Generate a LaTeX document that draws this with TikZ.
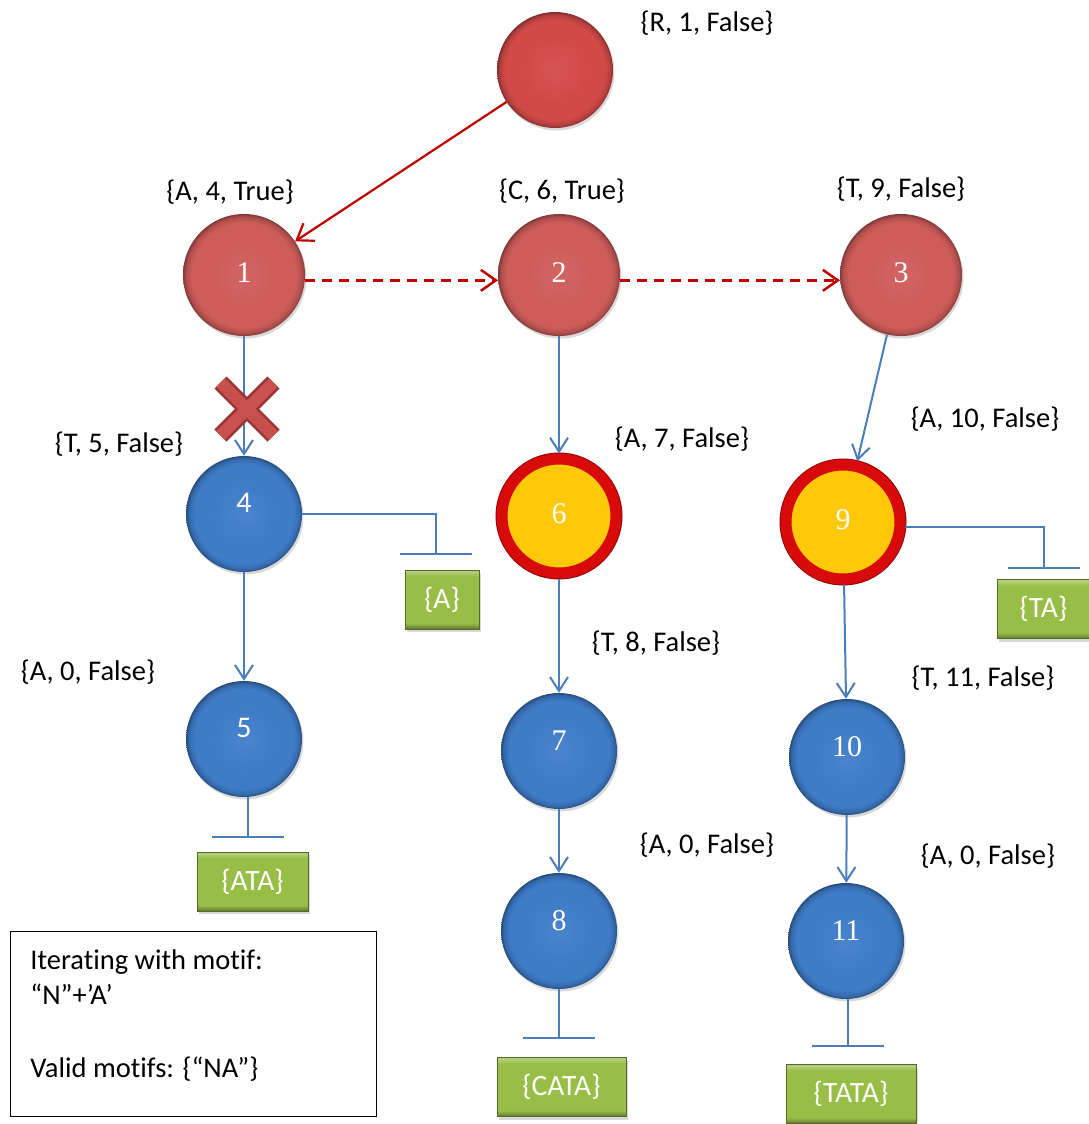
\documentclass[tikz,border=0pt]{standalone}
\usepackage{fontspec}
\setmainfont{Carlito}[Ligatures=NoCommon]
\newfontfamily\digitserif{Liberation Serif}
\usetikzlibrary{arrows.meta,shadows,shapes.misc}

\definecolor{rootred}{HTML}{D24A48}
\definecolor{nodered}{HTML}{CE5C59}
\definecolor{nodeblue}{HTML}{3E7CC8}
\definecolor{lineblue}{HTML}{4A7EBB}
\definecolor{linered}{HTML}{C00000}
\definecolor{ringred}{HTML}{D80A0A}
\definecolor{ringyellow}{HTML}{FFC90A}
\definecolor{leafgreen}{HTML}{98BE48}
\definecolor{crossdark}{HTML}{9C3634}
\definecolor{crosslight}{HTML}{C8514F}

% flat disc with a darker bevelled rim (edge of the path sits at 25bp)
\newcommand\bevelshading[2]{%
  \pgfdeclareradialshading{#1}{\pgfpoint{0bp}{0bp}}{%
    color(0bp)=(#2!94!white); color(14bp)=(#2); color(21.5bp)=(#2);
    color(23.8bp)=(#2!85!black); color(25bp)=(#2!62!black);
    color(50bp)=(#2!62!black)}}
\bevelshading{rootbevel}{rootred}
\bevelshading{redbevel}{nodered}
\bevelshading{bluebevel}{nodeblue}

% box with light top bevel and dark bottom bevel (path spans 25bp..75bp)
\pgfdeclareverticalshading{leafbevel}{100bp}{%
  color(0bp)=(leafgreen!62!black); color(25bp)=(leafgreen!62!black);
  color(27.5bp)=(leafgreen!82!black); color(30bp)=(leafgreen);
  color(70bp)=(leafgreen); color(72.5bp)=(leafgreen!80!white);
  color(75bp)=(leafgreen!70!white); color(100bp)=(leafgreen!70!white)}

\tikzset{
  treenode/.style={circle, inner sep=0pt, minimum size=#1, text=white,
    drop shadow={shadow xshift=1.5pt, shadow yshift=-2.5pt, opacity=0.3}},
  serifnum/.style={font=\digitserif\fontsize{30}{30}\selectfont, text height=20pt},
  sansnum/.style={font=\fontsize{30}{30}\selectfont, text height=19pt},
  rootnode/.style={treenode=116pt, shading=rootbevel},
  rednode/.style={treenode=122pt, shading=redbevel, serifnum, text depth=6pt},
  bluenode/.style={treenode=116pt, shading=bluebevel, serifnum, text depth=22pt},
  ringnode/.style={circle, inner sep=0pt, minimum size=114pt, fill=ringyellow,
    draw=ringred, line width=11pt,
    preaction={draw=ringred!65!black, line width=13pt},
    text=white, serifnum, text depth=6pt},
  infotag/.style={font=\fontsize{28.5}{34}\selectfont, inner sep=0pt},
  leaf/.style={rectangle, inner sep=0pt, minimum height=59pt, minimum width=#1,
    draw=leafgreen!55!black, line width=0.6pt, shading=leafbevel,
    text=white, font=\fontsize{29.5}{34}\selectfont,
    drop shadow={shadow xshift=2pt, shadow yshift=-3pt, opacity=0.3}},
  bluearrow/.style={draw=lineblue, line width=2pt,
    -{Straight Barb[length=14pt,width=18pt]}},
  redarrow/.style={draw=linered, line width=2.2pt,
    -{Straight Barb[length=15pt,width=21pt]}},
  reddash/.style={redarrow, line width=2.5pt, dash pattern=on 10pt off 7pt},
  stem/.style={draw=lineblue, line width=2pt},
  crossmark/.style={cross out, minimum size=36pt, inner sep=0pt,
    draw=crossdark, line width=17pt,
    postaction={draw=crosslight, line width=12pt}},
  notebox/.style={draw=black, line width=0.8pt, anchor=north west,
    inner xsep=20pt, inner ysep=18pt, font=\fontsize{28.5}{35}\selectfont,
    minimum width=366pt, minimum height=185pt}
}

\begin{document}
\begin{tikzpicture}[x=1pt, y=-1pt]
\useasboundingbox (0,0) rectangle (1088,1124);

% tree nodes
\node[rootnode] (nR) at (555,70) {};
\node[rednode] (n1) at (244,275) {1};
\node[rednode] (n2) at (559,275) {2};
\node[rednode] (n3) at (901,275) {3};
\node[bluenode, sansnum] (n4) at (244,514) {4};
\node[bluenode, sansnum] (n5) at (244,739) {5};
\node[ringnode] (n6) at (559,516) {6};
\node[bluenode] (n7) at (559,751) {7};
\node[bluenode] (n8) at (559,931) {8};
\node[ringnode] (n9) at (843,522) {9};
\node[bluenode] (n10) at (847,757) {10};
\node[bluenode] (n11) at (846,941) {11};

% node annotations
\node[infotag] (lR) at (707,23) {\{R, 1, False\}};
\node[infotag] (l1) at (230,192) {\{A, 4, True\}};
\node[infotag] (l2) at (562,191) {\{C, 6, True\}};
\node[infotag] (l3) at (901,189) {\{T, 9, False\}};
\node[infotag] (l4) at (119,444) {\{T, 5, False\}};
\node[infotag] (l6) at (682,439) {\{A, 7, False\}};
\node[infotag] (l9) at (985,419) {\{A, 10, False\}};
\node[infotag] (l7) at (656,643) {\{T, 8, False\}};
\node[infotag] (l5) at (88,672) {\{A, 0, False\}};
\node[infotag] (l10) at (983,678) {\{T, 11, False\}};
\node[infotag] (l8) at (707,845) {\{A, 0, False\}};
\node[infotag] (l11) at (988,856) {\{A, 0, False\}};

% collected motifs
\node[leaf=74pt] (bA) at (442,599.5) {\{A\}};
\node[leaf=93pt] (bTA) at (1043.5,609) {\{TA\}};
\node[leaf=111pt] (bATA) at (252.5,881.5) {\{ATA\}};
\node[leaf=129pt] (bCATA) at (561.5,1087) {\{CATA\}};
\node[leaf=130pt] (bTATA) at (851,1094) {\{TATA\}};

% red links
\draw[redarrow] (nR) -- (n1);
\draw[reddash] (n1.-5) -- (n2.185);
\draw[reddash] (n2.-5) -- (n3.185);

% blue links
\draw[bluearrow] (n1) -- (n4);
\draw[bluearrow] (n2) -- (n6);
\draw[bluearrow] (n3) -- (n9);
\draw[bluearrow] (n4) -- (n5);
\draw[bluearrow] (n6) -- (n7);
\draw[bluearrow] (n7) -- (n8);
\draw[bluearrow] (n9) -- (n10);
\draw[bluearrow] (n10) -- (n11);

% pruned branch
\node[crossmark] (cut) at (247,409) {};

% terminal stems
\coordinate (t4) at (436,554);
\coordinate (t9) at (1044,568);
\coordinate (t5) at (248,837);
\coordinate (t8) at (559,1038);
\coordinate (t11) at (848,1046);
\draw[stem] (n4.east) -| (t4);
\draw[stem] ([xshift=-36pt]t4) -- ([xshift=36pt]t4);
\draw[stem] (n9.-5) -| (t9);
\draw[stem] ([xshift=-36pt]t9) -- ([xshift=36pt]t9);
\draw[stem] (t5 |- n5.south) -- (t5);
\draw[stem] ([xshift=-36pt]t5) -- ([xshift=36pt]t5);
\draw[stem] (t8 |- n8.south) -- (t8);
\draw[stem] ([xshift=-36pt]t8) -- ([xshift=36pt]t8);
\draw[stem] (t11 |- n11.south) -- (t11);
\draw[stem] ([xshift=-36pt]t11) -- ([xshift=36pt]t11);

% legend
\node[notebox] (note) at (10,931) {\begin{minipage}[t][149pt][t]{326pt}%
Iterating with motif:\\
“N”+’A’\\[38pt]
Valid motifs: \{“NA”\}\end{minipage}};
\end{tikzpicture}
\end{document}
